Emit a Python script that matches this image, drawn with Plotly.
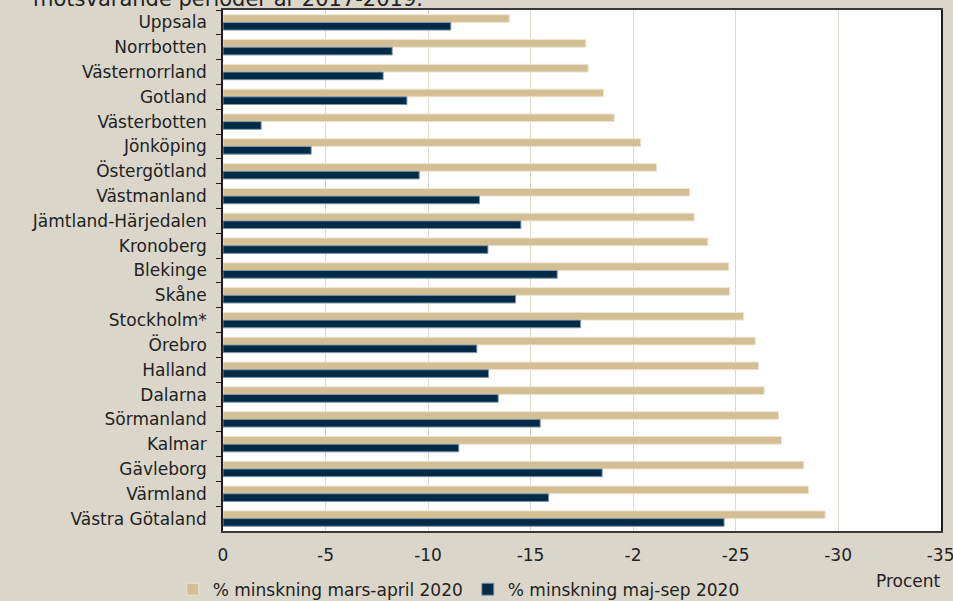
import plotly.graph_objects as go

regions = ["Uppsala", "Norrbotten", "Västernorrland", "Gotland", "Västerbotten",
           "Jönköping", "Östergötland", "Västmanland", "Jämtland-Härjedalen",
           "Kronoberg", "Blekinge", "Skåne", "Stockholm*", "Örebro", "Halland",
           "Dalarna", "Sörmanland", "Kalmar", "Gävleborg", "Värmland",
           "Västra Götaland"]

mars_april = [-13.96, -17.70, -17.81, -18.56, -19.08, -20.37, -21.15, -22.76,
              -22.98, -23.65, -24.67, -24.71, -25.40, -25.96, -26.12, -26.40,
              -27.10, -27.24, -28.33, -28.56, -29.37]

maj_sep = [-11.11, -8.25, -7.81, -8.97, -1.86, -4.30, -9.57, -12.51, -14.53,
           -12.92, -16.30, -14.27, -17.44, -12.38, -12.95, -13.42, -15.47,
           -11.50, -18.49, -15.88, -24.44]

x_tickvals = [0, -5, -10, -15, -20, -25, -30, -35]
x_ticktext = ["0", "-5", "-10", "-15", "-2", "-25", "-30", "-35"]

series_names = ["% minskning mars-april 2020", "% minskning maj-sep 2020"]

FONT = "DejaVu Sans"
BG = "#DAD7CA"

fig = go.Figure()
fig.add_trace(go.Bar(
    y=regions, x=mars_april, orientation="h", name=series_names[0],
    marker=dict(color="#D4BF94", line=dict(color="#EDE4D2", width=1)),
))
fig.add_trace(go.Bar(
    y=regions, x=maj_sep, orientation="h", name=series_names[1],
    marker=dict(color="#002A46", line=dict(color="#7F97AA", width=1)),
))

fig.update_layout(
    width=953, height=601,
    margin=dict(l=223, r=12, t=10, b=70, autoexpand=False),
    paper_bgcolor=BG, plot_bgcolor="white",
    barmode="group", bargap=0.38, bargroupgap=0.0,
    font=dict(family=FONT, size=17, color="#222222"),
    showlegend=True,
    legend=dict(orientation="h", x=-0.07, xanchor="left", y=-0.078, yanchor="top",
                font=dict(family=FONT, size=17, color="#222222"),
                bgcolor="rgba(0,0,0,0)", itemwidth=30, traceorder="normal",
                tracegroupgap=0),
    xaxis=dict(
        range=[0.001, -35.02], tickvals=x_tickvals, ticktext=x_ticktext,
        showgrid=True, gridcolor="#DDDAD0", gridwidth=1.3,
        zeroline=False, showline=True, mirror=True, linecolor="#3A3A3A", linewidth=1.5,
        ticks="", ticklabelstandoff=8, ticklabeloverflow="allow",
        tickfont=dict(family=FONT, size=17, color="#222222"),
    ),
    yaxis=dict(
        categoryorder="array", categoryarray=regions, autorange="reversed",
        showgrid=False, zeroline=False, showline=True, mirror=True,
        linecolor="#1E1E1E", linewidth=1.5,
        ticks="outside", ticklen=5, tickcolor="#1E1E1E", tickson="boundaries",
        ticklabelstandoff=11,
        tickfont=dict(family=FONT, size=17, color="#222222"),
    ),
    annotations=[
        dict(text="motsvarande perioder år 2017-2019.", xref="paper", yref="paper",
             x=-0.268, y=1, xanchor="left", yanchor="bottom", yshift=-3,
             showarrow=False, font=dict(family=FONT, size=21, color="#222222")),
        dict(text="Procent", xref="paper", yref="paper", x=1.003, y=-0.072,
             xanchor="right", yanchor="top", showarrow=False,
             font=dict(family=FONT, size=17, color="#222222")),
    ],
)

fig.write_html("out.html")
